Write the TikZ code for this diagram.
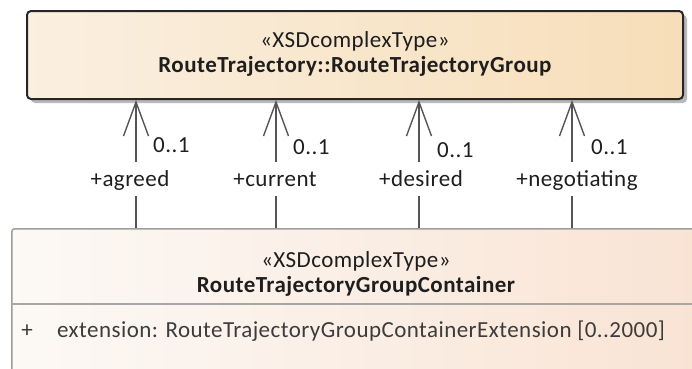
\documentclass[tikz,border=0pt]{standalone}
\usepackage{fontspec}
\setmainfont[LetterSpace=2.0]{Carlito}
\usetikzlibrary{arrows.meta}
\definecolor{topL}{RGB}{250,239,224}
\definecolor{topR}{RGB}{247,222,185}
\definecolor{botL}{RGB}{252,249,246}
\definecolor{botR}{RGB}{249,227,211}
\definecolor{lineg}{RGB}{85,85,85}
\definecolor{txt}{RGB}{30,30,30}
\definecolor{attr}{RGB}{60,60,60}
\tikzset{
  txtbase/.style={inner sep=0pt, anchor=base, font=\fontsize{23}{25}\selectfont, text=txt},
  namebase/.style={txtbase, font=\fontsize{23}{25}\selectfont\bfseries},
  rolelbl/.style={inner xsep=0pt, inner ysep=10pt, text height=14pt, text depth=0pt, anchor=base, font=\fontsize{23}{25}\selectfont, text=txt},
  mult/.style={inner sep=0pt, anchor=base west, font=\fontsize{23}{25}\selectfont, text=txt},
  assoc/.style={draw=lineg, line width=1.4pt, -{Straight Barb[length=34pt,width=25pt,line width=1.4pt]}},
  plainline/.style={draw=lineg, line width=1.4pt},
}
\begin{document}
\begin{tikzpicture}[x=1pt,y=-1pt]
\useasboundingbox (0,0) rectangle (692,368);
% top box shadow and box
\fill[gray!55, rounded corners=4pt] (31,15) rectangle (687,103);
\node[draw=black!85, line width=2pt, rounded corners=4pt, left color=topL, right color=topR,
      minimum width=656pt, minimum height=88pt, inner sep=0pt] (top) at (355,55) {};
\node[txtbase] (topst) at (355,47) {«XSDcomplexType»};
\node[namebase] (topnm) at (355,72) {RouteTrajectory::RouteTrajectoryGroup};
% bottom box
\node[draw=black!38, line width=1.5pt, rounded corners=3pt, left color=botL, right color=botR,
      minimum width=700pt, minimum height=170pt, inner sep=0pt, anchor=north west] (bot) at (11,228) {};
\draw[black!35, line width=1.3pt] (bot.west |- 0,304) coordinate (sepL) -- (692,304) coordinate (sepR);
\node[txtbase] (botst) at (356,267) {«XSDcomplexType»};
\node[namebase] (botnm) at (356,292) {RouteTrajectoryGroupContainer};
\node[txtbase, text=attr, anchor=base] (plus) at (27,337) {+};
\node[txtbase, text=attr, anchor=base west] (attrtxt) at (57,337) {extension: RouteTrajectoryGroupContainerExtension [0..2000]};
% connectors
\coordinate (b1) at (136,228);
\coordinate (b2) at (276,228);
\coordinate (b3) at (419,228);
\coordinate (b4) at (572,228);
\node[rolelbl] (l1) at (130,186) {+agreed};
\node[rolelbl] (l2) at (275,186) {+current};
\node[rolelbl] (l3) at (421,186) {+desired};
\node[rolelbl] (l4) at (577,186) {+negotiating};
\foreach \i in {1,2,3,4}{
  \draw[plainline] (b\i) -- (b\i |- l\i.south);
  \draw[assoc] (b\i |- l\i.north) -- (b\i |- top.south);
}
\node[mult] (m1) at (153,152) {0..1};
\node[mult] (m2) at (293,154) {0..1};
\node[mult] (m3) at (437,157) {0..1};
\node[mult] (m4) at (591,154) {0..1};
\end{tikzpicture}
\end{document}
